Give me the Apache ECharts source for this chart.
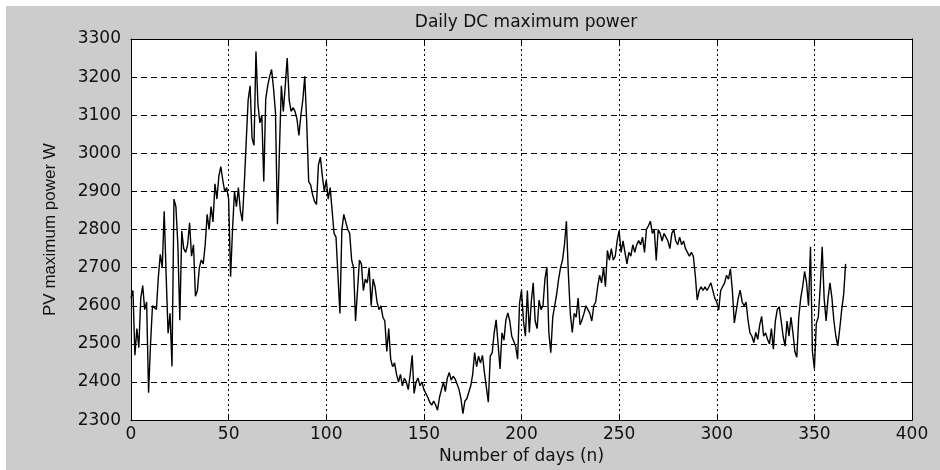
<!DOCTYPE html>
<html>
<head>
<meta charset="utf-8">
<title>Daily DC maximum power</title>
<script src="https://cdn.jsdelivr.net/npm/echarts@6/dist/echarts.min.js"></script>
<style>
  html, body { margin: 0; background: #fff; }
  #chart { position: absolute; left: 6px; top: 6px; width: 934px; height: 464px; }
</style>
</head>
<body>
<div id="chart"></div>
<script>
// daily DC maximum power (W), day 0 .. 366
const powerDays0to49 = [
  2620, 2640, 2470, 2540, 2490, 2620, 2653, 2590, 2610, 2372,
  2500, 2600, 2605, 2590, 2675, 2735, 2700, 2848, 2680, 2528,
  2580, 2441, 2880, 2860, 2760, 2562, 2796, 2750, 2740, 2760,
  2818, 2730, 2760, 2625, 2640, 2700, 2720, 2710, 2760, 2840,
  2800, 2860, 2820, 2920, 2880, 2940, 2965, 2930, 2900, 2910,
]
const powerDays50to99 = [
  2880, 2676, 2800, 2900, 2860, 2910, 2850, 2822, 2917, 3030,
  3140, 3177, 3040, 3021, 3267, 3130, 3080, 3100, 2926, 3142,
  3177, 3202, 3220, 3170, 3107, 2814, 3004, 3177, 3110, 3177,
  3250, 3140, 3110, 3120, 3110, 3090, 3047, 3100, 3140, 3202,
  3080, 2926, 2917, 2892, 2874, 2866, 2970, 2990, 2940, 2900,
]
const powerDays100to149 = [
  2930, 2880, 2910, 2850, 2790, 2780, 2780, 2580, 2800, 2840,
  2820, 2800, 2790, 2720, 2700, 2560, 2640, 2720, 2710, 2640,
  2670, 2660, 2700, 2600, 2670, 2650, 2610, 2590, 2600, 2570,
  2560, 2480, 2540, 2460, 2440, 2450, 2420, 2400, 2420, 2390,
  2410, 2400, 2380, 2420, 2470, 2370, 2400, 2410, 2390, 2400,
]
const powerDays150to199 = [
  2380, 2370, 2360, 2347, 2339, 2350, 2340, 2326, 2360, 2380,
  2400, 2375, 2410, 2425, 2405, 2415, 2408, 2395, 2380, 2356,
  2317, 2350, 2356, 2373, 2390, 2420, 2477, 2440, 2468, 2450,
  2470, 2425, 2420, 2347, 2468, 2477, 2529, 2563, 2500, 2434,
  2529, 2510, 2563, 2581, 2560, 2520, 2515, 2494, 2460, 2607,
]
const powerDays200to249 = [
  2641, 2560, 2520, 2640, 2530, 2610, 2660, 2560, 2540, 2615,
  2590, 2600, 2670, 2702, 2530, 2477, 2570, 2600, 2630, 2670,
  2700, 2720, 2760, 2822, 2684, 2580, 2530, 2580, 2570, 2620,
  2550, 2563, 2580, 2600, 2590, 2580, 2560, 2600, 2610, 2650,
  2680, 2660, 2700, 2650, 2745, 2720, 2750, 2720, 2730, 2771,
]
const powerDays250to299 = [
  2797, 2740, 2770, 2740, 2710, 2740, 2730, 2760, 2740, 2760,
  2771, 2760, 2780, 2740, 2800, 2810, 2822, 2790, 2800, 2719,
  2800, 2790, 2770, 2790, 2780, 2770, 2750, 2790, 2800, 2770,
  2760, 2780, 2760, 2770, 2750, 2740, 2730, 2740, 2730, 2680,
  2615, 2640, 2650, 2640, 2650, 2640, 2650, 2660, 2640, 2620,
]
const powerDays300to366 = [
  2610, 2589, 2640, 2650, 2660, 2680, 2670, 2697, 2640, 2555,
  2560, 2620, 2641, 2610, 2600, 2610, 2563, 2529, 2520, 2503,
  2530, 2512, 2550, 2572, 2520, 2529, 2512, 2500, 2540, 2486,
  2560, 2590, 2598, 2560, 2520, 2494, 2560, 2520, 2570, 2530,
  2480, 2465, 2570, 2620, 2650, 2690, 2660, 2600, 2755, 2480,
  2435, 2555, 2570, 2650, 2755, 2620, 2560, 2620, 2660, 2620,
  2560, 2520, 2495, 2540, 2590, 2630, 2710,
]

const xRange = { min: 0, max: 400, interval: 50 }
const yRange = { min: 2300, max: 3300, interval: 100 }

const power = [].concat(
  powerDays0to49, powerDays50to99, powerDays100to149, powerDays150to199,
  powerDays200to249, powerDays250to299, powerDays300to366,
)
const seriesData = power.map((v, day) => [day, v])

const labelFont = { color: '#111', fontSize: 17, fontFamily: 'DejaVu Sans' }
const frameLine = { onZero: false, lineStyle: { color: '#000', width: 1 } }
const innerTick = { inside: true, length: 5, lineStyle: { color: '#000' } }

const chart = echarts.init(document.getElementById('chart'))
chart.setOption({
  animation: false,
  backgroundColor: '#cccccc',
  title: {
    text: 'Daily DC maximum power',
    left: 515,
    top: 3,
    textAlign: 'center',
    textStyle: { ...labelFont, fontWeight: 'normal' },
  },
  grid: { left: 125, right: 28, top: 33, bottom: 45, show: true, backgroundColor: '#fff', borderWidth: 0 },
  xAxis: [
    {
      type: 'value',
      ...xRange,
      position: 'bottom',
      axisLine: frameLine,
      axisTick: innerTick,
      axisLabel: { ...labelFont, margin: 6 },
      splitLine: { show: true, lineStyle: { color: '#000', type: [2, 3] } },
      name: 'Number of days (n)',
      nameLocation: 'middle',
      nameGap: 26,
      nameTextStyle: labelFont,
    },
    {
      type: 'value',
      ...xRange,
      position: 'top',
      axisLine: frameLine,
      axisTick: innerTick,
      axisLabel: { show: false },
      splitLine: { show: false },
    },
  ],
  yAxis: [
    {
      type: 'value',
      ...yRange,
      position: 'left',
      axisLine: frameLine,
      axisTick: innerTick,
      axisLabel: { ...labelFont, margin: 10, formatter: (v) => String(v) },
      splitLine: { show: true, lineStyle: { color: '#000', type: [6, 4] } },
      name: 'PV maximum power W',
      nameLocation: 'middle',
      nameGap: 72,
      nameTextStyle: { ...labelFont, fontFamily: 'Liberation Sans' },
    },
    {
      type: 'value',
      ...yRange,
      position: 'right',
      axisLine: frameLine,
      axisTick: innerTick,
      axisLabel: { show: false },
      splitLine: { show: false },
    },
  ],
  series: [
    {
      type: 'line',
      data: seriesData,
      showSymbol: false,
      lineStyle: { color: '#000', width: 1.4 },
    },
  ],
})
</script>
</body>
</html>
